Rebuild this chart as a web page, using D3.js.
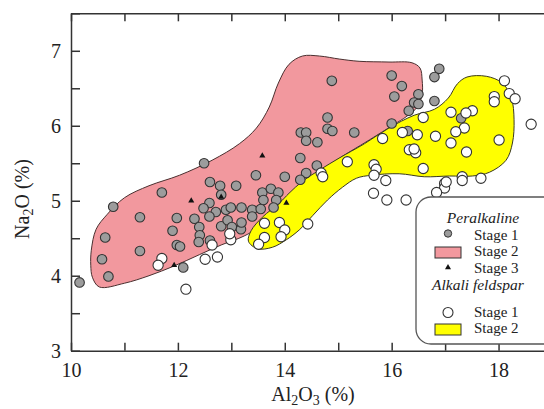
<!DOCTYPE html>
<html>
<head>
  <meta charset="utf-8">
  <script src="https://d3js.org/d3.v7.min.js"></script>
  <style>
    body { margin: 0; background: #fff; }
  </style>
</head>
<body>
<div id="chart"></div>
<script>

    // Peralkaline stage 1 (grey circles): [Al2O3, Na2O]
    var peralkStage1 = [
        [10.16,3.91],[10.70,3.99],[10.58,4.22],[10.64,4.51],[10.79,4.92],[11.29,4.78],[11.29,4.33],
        [11.70,5.11],[11.98,4.77],[11.90,4.60],[11.98,4.41],[12.04,4.39],[12.10,4.11],[12.49,5.50],
        [12.60,5.25],[12.79,5.20],[12.81,5.08],[13.09,5.20],[12.59,4.97],[12.48,4.90],[12.71,4.85],
        [12.90,4.88],[12.99,4.91],[13.19,4.91],[12.31,4.76],[12.59,4.79],[12.40,4.65],[12.41,4.54],
        [12.39,4.45],[12.60,4.47],[12.81,4.66],[12.93,4.74],[13.01,4.65],[13.18,4.62],[13.19,4.71],
        [13.39,4.88],[13.46,5.34],[13.58,5.11],[13.74,5.16],[13.88,5.11],[13.60,5.01],[13.84,5.01],
        [13.55,4.89],[13.39,4.79],[13.79,4.91],[14.88,6.60],[16.00,6.67],[16.19,6.53],[16.05,6.39],
        [16.50,6.42],[16.42,6.31],[16.50,6.29],[16.32,6.20],[14.80,6.11],[14.80,5.96],[14.89,5.93],
        [14.30,5.91],[14.40,5.91],[14.40,5.80],[14.61,5.78],[15.30,5.91],[16.00,6.03],[16.30,5.93],
        [14.29,5.57],[14.60,5.47],[14.40,5.37],[14.29,5.28],[14.00,5.32],[16.89,6.76],[16.80,6.65],
        [16.80,6.33],[17.30,6.10]
    ]

    // Peralkaline stage 3 (triangles)
    var peralkStage3 = [[11.93,4.14],[12.25,5.00],[13.58,5.60],[12.81,5.05],[14.03,4.97]]

    // Alkali feldspar stage 1 (open circles)
    var alkaliStage1 = [
        [11.70,4.23],[11.63,4.14],[12.15,3.82],[12.99,4.48],[12.97,4.56],[12.64,4.41],[12.74,4.25],
        [12.51,4.22],[13.62,4.70],[13.90,4.71],[14.00,4.61],[13.62,4.51],[13.93,4.52],[13.51,4.42],
        [14.43,4.69],[15.67,5.48],[15.71,5.42],[15.67,5.34],[15.89,5.27],[15.66,5.10],[15.91,5.01],
        [16.27,5.01],[15.17,5.52],[14.68,5.37],[14.71,5.32],[15.83,5.83],[16.59,6.11],[16.20,5.91],
        [16.48,5.88],[16.33,5.68],[16.45,5.64],[16.42,5.69],[16.59,5.43],[16.99,5.23],[16.99,5.17],
        [17.11,5.77],[17.40,5.65],[17.02,5.25],[17.32,5.32],[17.32,5.27],[17.67,5.30],[16.84,5.11],
        [18.01,5.81],[18.11,6.60],[17.92,6.39],[17.92,6.32],[18.20,6.43],[18.31,6.36],[18.61,6.02],
        [17.51,6.20],[17.11,6.18],[17.39,6.17],[17.36,5.97],[17.20,5.92],[16.82,5.86]
    ]

    // Peralkaline stage 2 field (pink outline)
    var peralkStage2Field = [
        [10.53,3.85],[10.40,3.98],[10.37,4.14],[10.38,4.34],[10.47,4.62],[10.68,4.82],[11.00,5.04],
        [11.46,5.20],[12.03,5.34],[12.64,5.54],[13.15,5.76],[13.47,5.97],[13.71,6.25],[13.88,6.57],
        [14.08,6.82],[14.33,6.93],[14.65,6.93],[15.02,6.89],[15.39,6.86],[15.95,6.85],[16.38,6.84],
        [16.53,6.77],[16.57,6.61],[16.57,6.42],[16.48,6.25],[16.27,6.12],[16.05,6.02],[15.58,5.81],
        [14.92,5.52],[14.27,5.18],[13.71,4.85],[13.49,4.64],[13.24,4.53],[12.81,4.41],[12.40,4.28],
        [11.93,4.13],[11.46,4.00],[11.00,3.90]
    ]

    // Alkali feldspar stage 2 field (yellow outline)
    var alkaliStage2Field = [
        [13.32,4.46],[13.37,4.60],[13.58,4.78],[13.90,4.97],[14.08,5.10],[14.33,5.26],[14.65,5.41],
        [15.02,5.57],[15.49,5.76],[15.95,5.97],[16.42,6.14],[16.80,6.22],[17.06,6.37],[17.23,6.56],
        [17.41,6.65],[17.77,6.66],[18.07,6.57],[18.24,6.37],[18.29,6.08],[18.26,5.77],[18.14,5.54],
        [17.83,5.38],[17.51,5.33],[17.08,5.33],[16.61,5.32],[16.14,5.36],[15.62,5.34],[15.34,5.30],
        [15.08,5.18],[14.80,5.01],[14.52,4.80],[14.27,4.61],[14.03,4.48],[13.77,4.38],[13.49,4.36]
    ]

    var xTicks = [10, 11, 12, 13, 14, 15, 16, 17, 18, 19]
    var yTicks = [3, 3.5, 4, 4.5, 5, 5.5, 6, 6.5, 7, 7.5]

    var legendRows = [
        { label: 'Peralkaline', type: 'title' },
        { label: 'Stage 1', type: 'grey' },
        { label: 'Stage 2', type: 'pink' },
        { label: 'Stage 3', type: 'tri' },
        { label: 'Alkali feldspar', type: 'title' },
        { label: 'Stage 1', type: 'open' },
        { label: 'Stage 2', type: 'yellow' }
    ]

    const width = 544,
        height = 409

    const serif = '"Liberation Serif", "Times New Roman", Tinos, "DejaVu Serif", "Noto Serif", FreeSerif, serif'

    const pinkFill = '#f2989e',
        yellowFill = '#ffff00',
        greyFill = '#9c9c9c',
        ink = '#333'

    var xScale = d3.scaleLinear()
        .domain([10, 19])
        .range([71, 552])

    var yScale = d3.scaleLinear()
        .domain([3, 7.5])
        .range([350.7, 13.3])

    var svg = d3.select('#chart').append('svg')
        .attr('width', width)
        .attr('height', height)
        .attr('font-family', serif)

    // fields
    var field = d3.line()
        .x(d => xScale(d[0]))
        .y(d => yScale(d[1]))
        .curve(d3.curveCatmullRomClosed.alpha(0.5))

    svg.append('path')
        .attr('d', field(peralkStage2Field))
        .attr('fill', pinkFill)
        .attr('stroke', '#4a3030')
        .attr('stroke-width', 1)

    svg.append('path')
        .attr('d', field(alkaliStage2Field))
        .attr('fill', yellowFill)
        .attr('stroke', '#3a3a20')
        .attr('stroke-width', 1)

    // points
    svg.append('g').selectAll('circle')
        .data(peralkStage1).enter()
        .append('circle')
        .attr('cx', d => xScale(d[0]))
        .attr('cy', d => yScale(d[1]))
        .attr('r', 4.8)
        .attr('fill', greyFill)
        .attr('stroke', ink)
        .attr('stroke-width', 1.1)

    svg.append('g').selectAll('circle')
        .data(alkaliStage1).enter()
        .append('circle')
        .attr('cx', d => xScale(d[0]))
        .attr('cy', d => yScale(d[1]))
        .attr('r', 5.1)
        .attr('fill', '#fff')
        .attr('stroke', ink)
        .attr('stroke-width', 1.1)

    var tri = d3.symbol().type(d3.symbolTriangle).size(16)

    svg.append('g').selectAll('path')
        .data(peralkStage3).enter()
        .append('path')
        .attr('d', tri)
        .attr('transform', d => `translate(${xScale(d[0])},${yScale(d[1])})`)
        .attr('fill', '#111')

    // axes (ticks point inward)
    svg.append('g')
        .attr('transform', `translate(0,${yScale(3)})`)
        .call(d3.axisBottom(xScale)
            .tickValues(xTicks)
            .tickSize(-8)
            .tickSizeOuter(0)
            .tickPadding(12)
            .tickFormat(d => d % 2 === 0 ? d : ''))

    svg.append('g')
        .attr('transform', `translate(0,${yScale(7.5)})`)
        .call(d3.axisTop(xScale)
            .tickValues(xTicks)
            .tickSize(-8)
            .tickSizeOuter(0)
            .tickFormat(''))

    svg.append('g')
        .attr('transform', `translate(${xScale(10)},0)`)
        .call(d3.axisLeft(yScale)
            .tickValues(yTicks)
            .tickSize(-9)
            .tickSizeOuter(0)
            .tickPadding(10)
            .tickFormat(d => Number.isInteger(d) ? d : ''))

    svg.selectAll('g').attr('font-family', serif)

    svg.selectAll('.domain, .tick line')
        .attr('stroke', ink)
        .attr('stroke-width', 1.5)

    svg.selectAll('.tick text')
        .attr('font-size', 20)
        .attr('font-family', serif)
        .attr('fill', '#222')

    // axis titles
    var xTitle = svg.append('text')
        .attr('x', 313)
        .attr('y', 401)
        .attr('text-anchor', 'middle')
        .attr('font-size', 20)
        .attr('font-family', serif)
        .attr('fill', '#222')
    xTitle.append('tspan').text('Al')
    xTitle.append('tspan').attr('font-size', 14).attr('dy', 4).text('2')
    xTitle.append('tspan').attr('dy', -4).text('O')
    xTitle.append('tspan').attr('font-size', 14).attr('dy', 4).text('3')
    xTitle.append('tspan').attr('dy', -4).text(' (%)')

    var yTitle = svg.append('text')
        .attr('transform', 'translate(29,199) rotate(-90)')
        .attr('text-anchor', 'middle')
        .attr('font-size', 20)
        .attr('font-family', serif)
        .attr('fill', '#222')
    yTitle.append('tspan').text('Na')
    yTitle.append('tspan').attr('font-size', 14).attr('dy', 4).text('2')
    yTitle.append('tspan').attr('dy', -4).text('O (%)')

    // legend
    var legend = svg.append('g')

    legend.append('rect')
        .attr('x', 416)
        .attr('y', 197)
        .attr('width', 160)
        .attr('height', 147)
        .attr('rx', 15)
        .attr('fill', '#fff')
        .attr('stroke', '#555')
        .attr('stroke-width', 1.3)

    var rowY = [223, 239.5, 256, 272.5, 290, 316.5, 333]
    var symX = 448, textX = 474

    legendRows.forEach(function(row, i) {
        var y = rowY[i]
        if (row.type === 'title') {
            legend.append('text')
                .attr('x', i === 0 ? 483 : 432)
                .attr('y', y)
                .attr('text-anchor', i === 0 ? 'middle' : 'start')
                .attr('font-size', 15.5)
                .attr('font-style', 'italic')
                .attr('font-family', serif)
                .attr('fill', '#222')
                .text(row.label)
            return
        }
        legend.append('text')
            .attr('x', textX)
            .attr('y', y)
            .attr('font-size', 15)
            .attr('font-family', serif)
            .attr('fill', '#222')
            .text(row.label)

        var cy = y - 5
        if (row.type === 'grey') {
            legend.append('circle').attr('cx', symX).attr('cy', cy - 1).attr('r', 3.7)
                .attr('fill', greyFill).attr('stroke', ink).attr('stroke-width', 1)
        } else if (row.type === 'open') {
            legend.append('circle').attr('cx', symX).attr('cy', cy + 1).attr('r', 5)
                .attr('fill', '#fff').attr('stroke', ink).attr('stroke-width', 1.1)
        } else if (row.type === 'tri') {
            legend.append('path').attr('d', tri)
                .attr('transform', `translate(${symX},${cy})`)
                .attr('fill', '#111')
        } else {
            legend.append('rect')
                .attr('x', 435).attr('y', cy - 4)
                .attr('width', 26).attr('height', 11)
                .attr('fill', row.type === 'pink' ? pinkFill : yellowFill)
                .attr('stroke', ink).attr('stroke-width', 1)
        }
    })

</script>
</body>
</html>
